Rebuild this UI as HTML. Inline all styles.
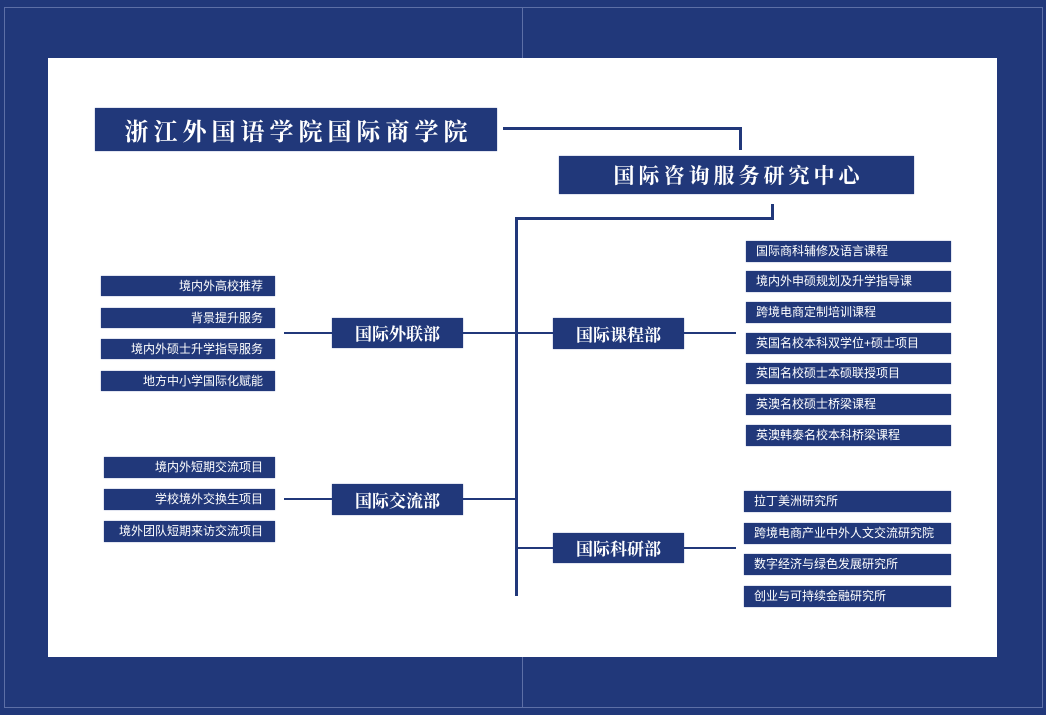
<!DOCTYPE html>
<html><head><meta charset="utf-8"><style>
body{margin:0;width:1046px;height:715px;background:#21387a;position:relative;overflow:hidden;font-family:"Liberation Sans","Noto Sans CJK SC",sans-serif}
.a{position:absolute}
.b{position:absolute;background:#21387a;color:#fff;box-shadow:0 0 1px #6a7bb0}
.s{font-size:12px;line-height:21px;box-sizing:border-box}
.r{text-align:right;padding-right:12px}
.l{text-align:left;padding-left:10px}
.m{font-family:"Noto Serif CJK SC",serif;font-weight:bold;text-align:center;color:#fff}
.ln{position:absolute;background:#21387a}
</style></head><body>
<div class="a" style="left:4px;top:7px;width:1037px;height:699px;border:1px solid #5d6fa6"></div>
<div class="a" style="left:522px;top:7px;width:1px;height:700px;background:#5d6fa6"></div>
<div class="a" style="left:48px;top:58px;width:949px;height:599px;background:#fff"></div>

<div class="b m" style="left:95px;top:108px;width:402px;height:43px;line-height:43px;font-size:24px;letter-spacing:5px;text-indent:5px">浙江外国语学院国际商学院</div>
<div class="ln" style="left:503px;top:127px;width:239px;height:3px"></div>
<div class="ln" style="left:739px;top:127px;width:3px;height:23px"></div>
<div class="b m" style="left:559px;top:156px;width:355px;height:38px;line-height:38px;font-size:21px;letter-spacing:4px;text-indent:4px">国际咨询服务研究中心</div>
<div class="ln" style="left:771px;top:204px;width:3px;height:15px"></div>
<div class="ln" style="left:515px;top:217px;width:259px;height:3px"></div>
<div class="ln" style="left:515px;top:217px;width:3px;height:379px"></div>

<div class="b m" style="left:332px;top:318px;width:131px;height:30px;line-height:30px;font-size:17px">国际外联部</div>
<div class="ln" style="left:284px;top:332px;width:48px;height:2px"></div>
<div class="ln" style="left:463px;top:332px;width:53px;height:2px"></div>
<div class="b s r" style="left:101px;top:276px;width:174px;height:20px">境内外高校推荐</div>
<div class="b s r" style="left:101px;top:308px;width:174px;height:20px">背景提升服务</div>
<div class="b s r" style="left:101px;top:339px;width:174px;height:20px">境内外硕士升学指导服务</div>
<div class="b s r" style="left:101px;top:371px;width:174px;height:20px">地方中小学国际化赋能</div>

<div class="b m" style="left:332px;top:484px;width:131px;height:31px;line-height:31px;font-size:17px">国际交流部</div>
<div class="ln" style="left:284px;top:498px;width:48px;height:2px"></div>
<div class="ln" style="left:463px;top:498px;width:53px;height:2px"></div>
<div class="b s r" style="left:104px;top:457px;width:171px;height:21px">境内外短期交流项目</div>
<div class="b s r" style="left:104px;top:489px;width:171px;height:21px">学校境外交换生项目</div>
<div class="b s r" style="left:104px;top:521px;width:171px;height:21px">境外团队短期来访交流项目</div>

<div class="b m" style="left:553px;top:318px;width:131px;height:31px;line-height:31px;font-size:17px">国际课程部</div>
<div class="ln" style="left:516px;top:332px;width:37px;height:2px"></div>
<div class="ln" style="left:684px;top:332px;width:52px;height:2px"></div>
<div class="b s l" style="left:746px;top:241px;width:205px;height:21px">国际商科辅修及语言课程</div>
<div class="b s l" style="left:746px;top:271px;width:205px;height:21px">境内外申硕规划及升学指导课</div>
<div class="b s l" style="left:746px;top:302px;width:205px;height:21px">跨境电商定制培训课程</div>
<div class="b s l" style="left:746px;top:333px;width:205px;height:21px">英国名校本科双学位+硕士项目</div>
<div class="b s l" style="left:746px;top:363px;width:205px;height:21px">英国名校硕士本硕联授项目</div>
<div class="b s l" style="left:746px;top:394px;width:205px;height:21px">英澳名校硕士桥梁课程</div>
<div class="b s l" style="left:746px;top:425px;width:205px;height:21px">英澳韩泰名校本科桥梁课程</div>

<div class="b m" style="left:553px;top:533px;width:131px;height:30px;line-height:30px;font-size:17px">国际科研部</div>
<div class="ln" style="left:516px;top:547px;width:37px;height:2px"></div>
<div class="ln" style="left:684px;top:547px;width:52px;height:2px"></div>
<div class="b s l" style="left:744px;top:491px;width:207px;height:21px">拉丁美洲研究所</div>
<div class="b s l" style="left:744px;top:523px;width:207px;height:21px">跨境电商产业中外人文交流研究院</div>
<div class="b s l" style="left:744px;top:554px;width:207px;height:21px">数字经济与绿色发展研究所</div>
<div class="b s l" style="left:744px;top:586px;width:207px;height:21px">创业与可持续金融研究所</div>
</body></html>
